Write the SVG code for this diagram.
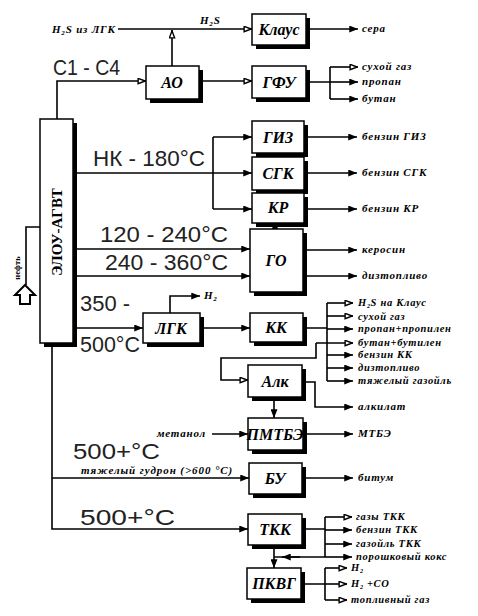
<svg xmlns="http://www.w3.org/2000/svg" width="478" height="616" viewBox="0 0 478 616">
<defs>
<style>
.sh{fill:#000}
.bx{fill:#fff;stroke:#000;stroke-width:1.5}
.bl{font-family:"Liberation Serif",serif;font-weight:bold;font-style:italic;font-size:16px;text-anchor:middle}
.ol{font-family:"Liberation Serif",serif;font-weight:bold;font-style:italic;font-size:11px;letter-spacing:0.8px}
.ks{font-size:10.5px;letter-spacing:0.7px}
.hw{font-family:"Liberation Sans",sans-serif;font-size:22px;fill:#222}
.ln{fill:none;stroke:#000;stroke-width:1.6}
.f{marker-end:url(#af)}
.o{marker-end:url(#ao)}
</style>
<marker id="af" viewBox="0 0 10 8" refX="10" refY="4" markerWidth="9" markerHeight="7" orient="auto" markerUnits="userSpaceOnUse"><path d="M0,0 L10,4 L0,8 z" fill="#000"/></marker>
<marker id="ao" viewBox="0 0 10 8" refX="10" refY="4" markerWidth="9" markerHeight="7" orient="auto" markerUnits="userSpaceOnUse"><path d="M1,1 L9,4 L1,7 z" fill="#fff" stroke="#000" stroke-width="1.6"/></marker>
</defs>
<rect width="478" height="616" fill="#fff"/>

<g id="connectors">
<path class="ln o" d="M118,29 H252"/>
<path class="ln o" d="M172,66 V30"/>
<path class="ln o" d="M57,119 V81 H146"/>
<path class="ln o" d="M199,81 H252"/>
<path class="ln f" d="M306,29 H358"/>
<path class="ln" d="M306,82 H330 M330,67 V99"/>
<path class="ln o" d="M330,67 H358"/>
<path class="ln f" d="M330,82 H358"/>
<path class="ln f" d="M330,99 H358"/>
<path class="ln f" d="M77,173 H252"/>
<path class="ln" d="M213,137 V209"/>
<path class="ln f" d="M213,137 H252"/>
<path class="ln f" d="M213,209 H252"/>
<path class="ln f" d="M304,137 H357"/>
<path class="ln f" d="M304,173 H357"/>
<path class="ln f" d="M304,209 H357"/>
<path class="ln f" d="M77,249 H250"/>
<path class="ln f" d="M77,276 H250"/>
<path class="ln f" d="M303,250 H357"/>
<path class="ln f" d="M303,276 H357"/>
<path class="ln f" d="M275,229 V221"/>
<path class="ln f" d="M77,328 H143"/>
<path class="ln f" d="M170,313 V296 H200"/>
<path class="ln f" d="M200,328 H250"/>
<path class="ln" d="M303,328 H327 M327,303 V381"/>
<path class="ln o" d="M327,303 H353"/>
<path class="ln o" d="M327,316 H353"/>
<path class="ln f" d="M327,329 H353"/>
<path class="ln o" d="M316,343 H353"/>
<path class="ln f" d="M327,355 H353"/>
<path class="ln f" d="M327,368 H353"/>
<path class="ln f" d="M327,381 H353"/>
<path class="ln o" d="M316,343 V358 H221 V380 H248"/>
<path class="ln f" d="M302,382 H315 V407 H353"/>
<path class="ln f" d="M274,398 V418"/>
<path class="ln f" d="M212,434 H248"/>
<path class="ln f" d="M303,434 H353"/>
<path class="ln f" d="M52,347 V529 H248"/>
<path class="ln f" d="M52,478 H249"/>
<path class="ln f" d="M302,478 H353"/>
<path class="ln" d="M302,529 H325 M325,517 V557"/>
<path class="ln o" d="M325,517 H352"/>
<path class="ln f" d="M325,530 H352"/>
<path class="ln f" d="M325,544 H352"/>
<path class="ln f" d="M325,557 H352"/>
<path class="ln" d="M325,557 H274"/>
<path class="ln f" d="M300,557 H282"/>
<path class="ln f" d="M274,545 V568"/>
<path class="ln" d="M301,584 H325 M325,568 V600"/>
<path class="ln o" d="M325,568 H347"/>
<path class="ln o" d="M325,584 H347"/>
<path class="ln o" d="M325,600 H347"/>
<path class="ln" d="M40,227 H26 V285"/>
</g>

<g id="neft">
<path d="M25,285 L35,295 L30,295 L30,304 L20,304 L20,295 L15,295 Z" fill="#fff" stroke="#000" stroke-width="2"/>
<text transform="translate(20,268) rotate(-90)" font-family="Liberation Serif,serif" font-weight="bold" font-size="8.5" text-anchor="middle">нефть</text>
</g>

<g id="elou">
<rect class="sh" x="44" y="123" width="33" height="224"/>
<rect class="bx" x="40" y="119" width="33" height="224"/>
<text transform="translate(62,232) rotate(-90)" font-family="Liberation Serif,serif" font-weight="bold" font-size="15" text-anchor="middle">ЭЛОУ-АГВТ</text>
</g>

<g id="ao"><rect class="sh" x="150" y="70" width="53" height="33"/><rect class="bx" x="146" y="66" width="53" height="33"/><text class="bl" x="172" y="88">АО</text></g>
<g id="klaus"><rect class="sh" x="256" y="18" width="54" height="31"/><rect class="bx" x="252" y="14" width="54" height="31"/><text class="bl" x="279" y="35" font-size="15">Клаус</text></g>
<g id="gfu"><rect class="sh" x="256" y="70" width="54" height="32"/><rect class="bx" x="252" y="66" width="54" height="32"/><text class="bl" x="279" y="88">ГФУ</text></g>
<g id="giz"><rect class="sh" x="256" y="125" width="52" height="32"/><rect class="bx" x="252" y="121" width="52" height="32"/><text class="bl" x="278" y="143">ГИЗ</text></g>
<g id="sgk"><rect class="sh" x="256" y="161" width="52" height="33"/><rect class="bx" x="252" y="157" width="52" height="33"/><text class="bl" x="278" y="179">СГК</text></g>
<g id="kr"><rect class="sh" x="256" y="197" width="52" height="30"/><rect class="bx" x="252" y="193" width="52" height="30"/><text class="bl" x="278" y="213">КР</text></g>
<g id="go"><rect class="sh" x="254" y="233" width="53" height="63"/><rect class="bx" x="250" y="229" width="53" height="63"/><text class="bl" x="276" y="266">ГО</text></g>
<g id="lgk"><rect class="sh" x="147" y="317" width="57" height="30"/><rect class="bx" x="143" y="313" width="57" height="30"/><text class="bl" x="171" y="334">ЛГК</text></g>
<g id="kk"><rect class="sh" x="254" y="317" width="53" height="29"/><rect class="bx" x="250" y="313" width="53" height="29"/><text class="bl" x="276" y="333">КК</text></g>
<g id="alk"><rect class="sh" x="252" y="369" width="54" height="32"/><rect class="bx" x="248" y="365" width="54" height="32"/><text class="bl" x="275" y="387">Алк</text></g>
<g id="pmtbe"><rect class="sh" x="252" y="422" width="55" height="32"/><rect class="bx" x="248" y="418" width="55" height="32"/><text class="bl" x="275" y="440" font-size="14" font-style="normal">ПМТБЭ</text></g>
<g id="bu"><rect class="sh" x="253" y="467" width="53" height="31"/><rect class="bx" x="249" y="463" width="53" height="31"/><text class="bl" x="275" y="484">БУ</text></g>
<g id="tkk"><rect class="sh" x="252" y="518" width="54" height="31"/><rect class="bx" x="248" y="514" width="54" height="31"/><text class="bl" x="275" y="535">ТКК</text></g>
<g id="pkvg"><rect class="sh" x="251" y="572" width="54" height="31"/><rect class="bx" x="247" y="568" width="54" height="31"/><text class="bl" x="274" y="589">ПКВГ</text></g>

<g id="labels">
<text class="ol" x="52" y="33">H<tspan font-size="7" dy="2">2</tspan><tspan dy="-2">S из ЛГК</tspan></text>
<text class="ol" x="200" y="24">H<tspan font-size="7" dy="2">2</tspan><tspan dy="-2">S</tspan></text>
<text class="ol" x="362" y="32">сера</text>
<text class="ol" x="362" y="70">сухой газ</text>
<text class="ol" x="362" y="85">пропан</text>
<text class="ol" x="362" y="102">бутан</text>
<text class="ol" x="362" y="140">бензин ГИЗ</text>
<text class="ol" x="362" y="176">бензин СГК</text>
<text class="ol" x="362" y="212">бензин КР</text>
<text class="ol" x="362" y="253">керосин</text>
<text class="ol" x="362" y="279">дизтопливо</text>
<text class="ol" x="204" y="299">H<tspan font-size="7" dy="2">2</tspan></text>
<text class="ol ks" x="358" y="306">H<tspan font-size="6" dy="1.5">2</tspan><tspan dy="-1.5">S на Клаус</tspan></text>
<text class="ol ks" x="358" y="319.5">сухой газ</text>
<text class="ol ks" x="358" y="332">пропан+пропилен</text>
<text class="ol ks" x="358" y="346">бутан+бутилен</text>
<text class="ol ks" x="358" y="358">бензин КК</text>
<text class="ol ks" x="358" y="371">дизтопливо</text>
<text class="ol ks" x="358" y="384">тяжелый газойль</text>
<text class="ol" x="358" y="410">алкилат</text>
<text class="ol" x="157" y="437">метанол</text>
<text class="ol" x="358" y="437">МТБЭ</text>
<text class="ol" x="81" y="474" textLength="152" lengthAdjust="spacing">тяжелый гудрон (&gt;600 °C)</text>
<text class="ol" x="358" y="481">битум</text>
<text class="ol ks" x="356" y="520">газы ТКК</text>
<text class="ol ks" x="356" y="533">бензин ТКК</text>
<text class="ol ks" x="356" y="547">газойль ТКК</text>
<text class="ol ks" x="356" y="560">порошковый кокс</text>
<text class="ol ks" x="351" y="571">H<tspan font-size="6" dy="1.5">2</tspan></text>
<text class="ol ks" x="351" y="587">H<tspan font-size="6" dy="1.5">2</tspan><tspan dy="-1.5"> +CO</tspan></text>
<text class="ol ks" x="351" y="603">топливный газ</text>
</g>

<g id="handwritten">
<text class="hw" x="53" y="75" textLength="67" lengthAdjust="spacingAndGlyphs">С1 - С4</text>
<text class="hw" x="93" y="166" textLength="112" lengthAdjust="spacingAndGlyphs">НК - 180°С</text>
<text class="hw" x="100" y="242" textLength="128" lengthAdjust="spacingAndGlyphs">120 - 240°С</text>
<text class="hw" x="105" y="270" textLength="123" lengthAdjust="spacingAndGlyphs">240 - 360°С</text>
<text class="hw" x="80" y="311" font-size="19" textLength="50" lengthAdjust="spacingAndGlyphs">350 -</text>
<text class="hw" x="80" y="352" font-size="19" textLength="60" lengthAdjust="spacingAndGlyphs">500°С</text>
<text class="hw" x="73" y="459" font-size="20" textLength="87" lengthAdjust="spacingAndGlyphs">500+°С</text>
<text class="hw" x="80" y="525" textLength="95" lengthAdjust="spacingAndGlyphs">500+°С</text>
</g>
</svg>
